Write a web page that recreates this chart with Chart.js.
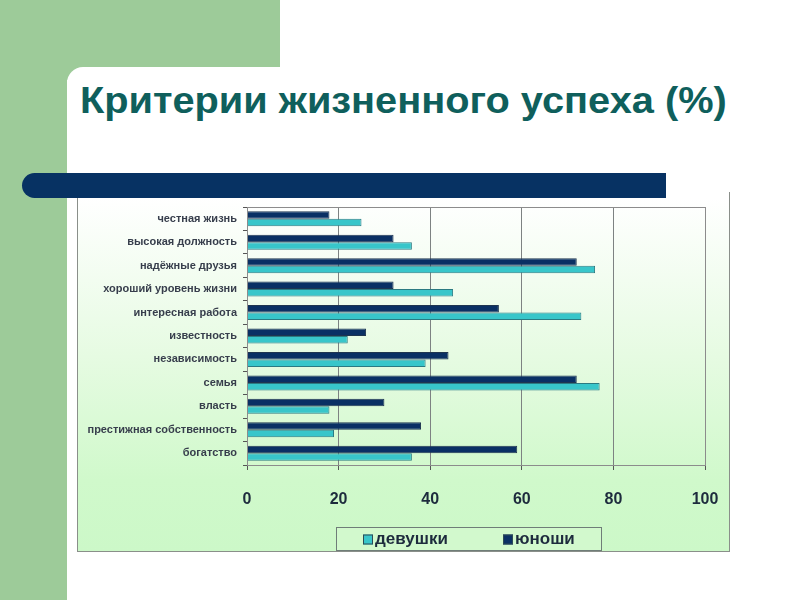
<!DOCTYPE html>
<html>
<head>
<meta charset="utf-8">
<script src="https://cdn.jsdelivr.net/npm/chart.js@4"></script>
<style>
  body { margin: 0; width: 800px; height: 600px; position: relative; overflow: hidden; background: #fff; font-family: "Liberation Sans", Arial, sans-serif; }
  #greenTop { position: absolute; left: 0; top: 0; width: 280px; height: 80px; background: #9dcb99; }
  #greenLeft { position: absolute; left: 0; top: 0; width: 67px; height: 600px; background: #9dcb99; }
  #panel { position: absolute; left: 67px; top: 67px; width: 733px; height: 533px; background: #fff; border-top-left-radius: 16px; }
  #title { position: absolute; left: 80px; top: 83px; font-weight: bold; font-size: 36px; line-height: 36px; color: #0f5f5c; white-space: nowrap; transform-origin: 0 0; }
  #navy { position: absolute; left: 22px; top: 173px; width: 644px; height: 25px; background: #073263; border-radius: 13px 0 0 13px; z-index: 2; }
  #box { position: absolute; left: 77px; top: 198px; width: 653px; height: 354px; border: 1px solid #8a8f8a; border-top: none; box-sizing: border-box;
         background: linear-gradient(to bottom, #ffffff 0%, #e6fbe2 45%, #d0f9cb 80%, #ccf8c8 100%); }
  #edge { position: absolute; left: 729px; top: 192px; width: 1px; height: 8px; background: #8a8f8a; }
  #box canvas { position: absolute; left: 0; top: 0; }
</style>
</head>
<body>
<div id="greenTop"></div>
<div id="greenLeft"></div>
<div id="panel"></div>
<div id="title">Критерии жизненного успеха (%)</div>
<div id="navy"></div>
<div id="edge"></div>
<div id="box"><canvas id="lifeChart" width="651" height="353"></canvas></div>

<script>
"use strict";

// данные
const criteria = ["честная жизнь", "высокая должность", "надёжные друзья", "хороший уровень жизни",
  "интересная работа", "известность", "независимость", "семья", "власть",
  "престижная собственность", "богатство"];
const boys = [18, 32, 72, 32, 55, 26, 44, 72, 30, 38, 59];
const girls = [25, 36, 76, 45, 73, 22, 39, 77, 18, 19, 36];
const xTicks = [0, 20, 40, 60, 80, 100];

// подгоняем ширину заголовка
const titleEl = document.getElementById("title");
titleEl.style.transform = "scaleX(" + (647 / titleEl.offsetWidth) + ")";

// рамка вокруг области построения
const frame = {
  id: "frame",
  afterDraw(chart) {
    const a = chart.chartArea, ctx = chart.ctx;
    ctx.save();
    ctx.strokeStyle = "#8c8c8c";
    ctx.lineWidth = 1;
    ctx.strokeRect(Math.round(a.left) + 0.5, Math.round(a.top) + 0.5, Math.round(a.right - a.left), Math.round(a.bottom - a.top));
    ctx.restore();
  }
};

// легенда в рамке, как в Excel
const boxLegend = {
  id: "boxLegend",
  afterDraw(chart, args, opts) {
    const ctx = chart.ctx;
    ctx.save();
    ctx.fillStyle = "#d2f9cd";
    ctx.fillRect(opts.x, opts.y, opts.w, opts.h);
    ctx.strokeStyle = "#6f7d78";
    ctx.lineWidth = 1;
    ctx.strokeRect(opts.x + 0.5, opts.y + 0.5, opts.w, opts.h);
    ctx.font = "bold 17px 'Liberation Sans', Arial, sans-serif";
    ctx.textBaseline = "middle";
    const sets = chart.data.datasets.slice().reverse();
    let x = opts.x + 27;
    const cy = opts.y + opts.h / 2 + 1;
    sets.forEach(ds => {
      ctx.fillStyle = ds.backgroundColor;
      ctx.fillRect(x, cy - 5, 10, 10);
      ctx.strokeStyle = "#2d4a55";
      ctx.strokeRect(x + 0.5, cy - 4.5, 9, 9);
      ctx.fillStyle = "#1d2b3d";
      ctx.fillText(ds.label, x + 12, cy);
      x += 140;
    });
    ctx.restore();
  }
};

new Chart(document.getElementById("lifeChart"), {
  type: "bar",
  data: {
    labels: criteria,
    datasets: [
      { label: "юноши", data: boys, backgroundColor: "#0a3064", borderColor: "#1f3550", borderWidth: 1 },
      { label: "девушки", data: girls, backgroundColor: "#38c6ca", borderColor: "#2b7a82", borderWidth: 1 }
    ]
  },
  options: {
    indexAxis: "y",
    responsive: false,
    animation: false,
    categoryPercentage: 0.64,
    barPercentage: 1,
    layout: { padding: { left: 10, right: 24, top: 9, bottom: 0 } },
    plugins: {
      legend: { display: false },
      tooltip: { enabled: false },
      boxLegend: { x: 258, y: 329, w: 265, h: 23 }
    },
    scales: {
      x: {
        min: 0, max: 100,
        afterBuildTicks: s => { s.ticks = xTicks.map(v => ({ value: v })); },
        afterFit: s => { s.height = 86; s.paddingLeft = 0; s.paddingRight = 0; },
        grid: { color: "#7d8282", tickLength: 5, tickColor: "#555" },
        border: { color: "#8c8c8c" },
        ticks: { padding: 20, color: "#1d2b3d", font: { family: "'Liberation Sans', Arial", size: 16, weight: "bold" } }
      },
      y: {
        afterFit: s => { s.width = 159; s.paddingTop = 0; s.paddingBottom = 0; },
        grid: { drawOnChartArea: false, offset: true, tickLength: 4, tickColor: "#555" },
        border: { color: "#8c8c8c" },
        ticks: { padding: 6, autoSkip: false, color: "#373e4c", font: { family: "'Liberation Sans', Arial", size: 11, weight: "bold" } }
      }
    }
  },
  plugins: [frame, boxLegend]
});
</script>
</body>
</html>
